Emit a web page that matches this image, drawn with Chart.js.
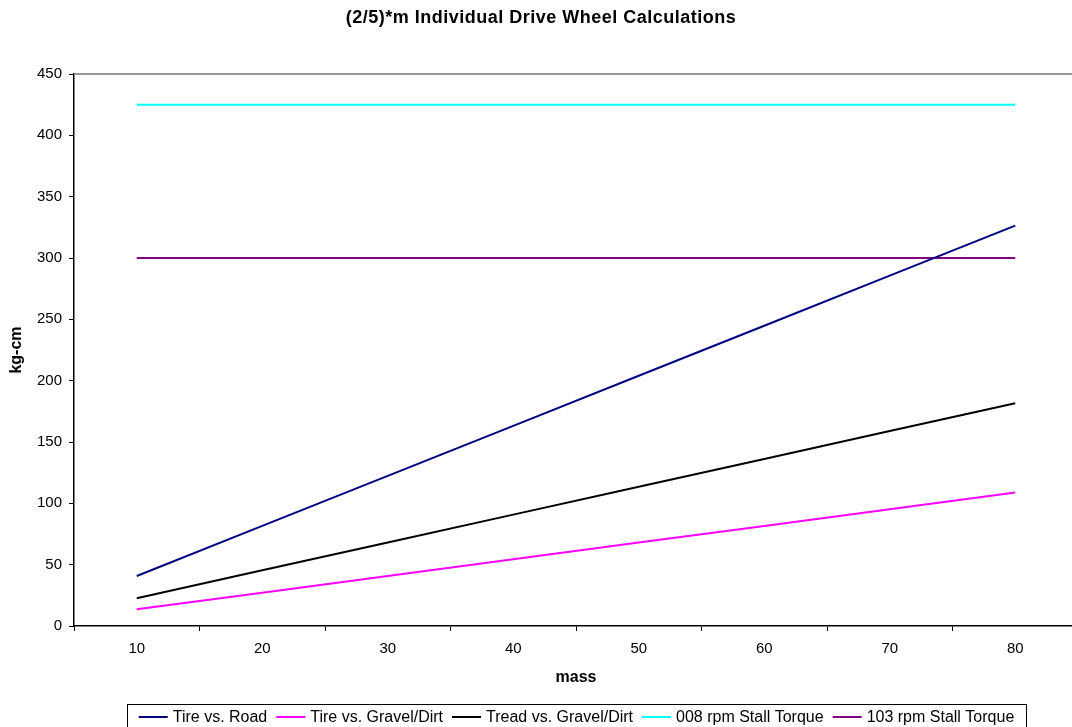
<!DOCTYPE html>
<html lang="en">
<head>
    <meta charset="UTF-8">
    <title>(2/5)*m Individual Drive Wheel Calculations</title>
    <script src="https://cdn.jsdelivr.net/npm/chart.js"></script>
    <style>
        html, body {
            margin: 0;
            padding: 0;
            background: #fff;
            overflow: hidden;
        }
        .chart-container {
            width: 1086px;
            height: 727px;
        }
    </style>
</head>
<body>
    <div class="chart-container">
        <canvas id="wheelChart" width="1086" height="727"></canvas>
    </div>
    <script>
        const FONT = "'Liberation Sans', Arial, sans-serif";

        const chartTitle = '(2/5)*m Individual Drive Wheel Calculations';
        const massLabels = ['10', '20', '30', '40', '50', '60', '70', '80'];
        const tireRoad = [40.8, 81.6, 122.4, 163.2, 204, 244.8, 285.6, 326.4];
        const tireGravel = [13.6, 27.2, 40.8, 54.4, 68, 81.6, 95.2, 108.8];
        const treadGravel = [22.7, 45.4, 68.1, 90.8, 113.5, 136.2, 158.9, 181.6];
        const stall008 = [425, 425, 425, 425, 425, 425, 425, 425];
        const stall103 = [300, 300, 300, 300, 300, 300, 300, 300];

        function series(label, data, color) {
            return {
                label: label,
                data: data,
                borderColor: color,
                backgroundColor: color,
                borderWidth: 2,
                pointRadius: 0,
                tension: 0,
                fill: false
            };
        }

        // title, gray frame line on top and boxed legend, Excel style
        const decorations = {
            id: 'decorations',
            afterDraw(chart) {
                const ctx = chart.ctx;
                const area = chart.chartArea;
                ctx.save();

                ctx.strokeStyle = '#999';
                ctx.lineWidth = 2;
                ctx.beginPath();
                ctx.moveTo(area.left, area.top);
                ctx.lineTo(area.right, area.top);
                ctx.stroke();

                ctx.fillStyle = '#000';
                ctx.font = 'bold 18px ' + FONT;
                ctx.letterSpacing = '0.5px';
                ctx.textAlign = 'center';
                ctx.textBaseline = 'middle';
                ctx.fillText(chartTitle, 541, 18);
                ctx.letterSpacing = '0px';

                // legend, centred under the plot
                const boxLeft = 127, boxRight = 1026, boxTop = 704, midY = 717;
                ctx.lineWidth = 1;
                ctx.strokeStyle = '#000';
                ctx.strokeRect(boxLeft + 0.5, boxTop + 0.5, boxRight - boxLeft, 30);

                ctx.font = '16px ' + FONT;
                ctx.textAlign = 'left';
                const sample = 29, gap = 5, space = 9;
                const items = chart.data.datasets;
                let total = 0;
                items.forEach((ds, i) => {
                    total += sample + gap + ctx.measureText(ds.label).width;
                    if (i < items.length - 1) total += space;
                });
                let x = (boxLeft + boxRight) / 2 - total / 2;
                items.forEach(ds => {
                    ctx.strokeStyle = ds.borderColor;
                    ctx.lineWidth = 2;
                    ctx.beginPath();
                    ctx.moveTo(x, midY);
                    ctx.lineTo(x + sample, midY);
                    ctx.stroke();
                    x += sample + gap;
                    ctx.fillStyle = '#000';
                    ctx.fillText(ds.label, x, midY + 1);
                    x += ctx.measureText(ds.label).width + space;
                });

                ctx.restore();
            }
        };

        const ctx = document.getElementById('wheelChart').getContext('2d');
        new Chart(ctx, {
            type: 'line',
            data: {
                labels: massLabels,
                datasets: [
                    series('Tire vs. Road', tireRoad, '#000080'),
                    series('Tire vs. Gravel/Dirt', tireGravel, '#ff00ff'),
                    series('Tread vs. Gravel/Dirt', treadGravel, '#000000'),
                    series('008 rpm Stall Torque', stall008, '#00ffff'),
                    series('103 rpm Stall Torque', stall103, '#800080')
                ]
            },
            options: {
                responsive: false,
                animation: false,
                layout: {
                    padding: { top: 74, right: 8, bottom: 0, left: 0 }
                },
                plugins: {
                    legend: { display: false },
                    title: { display: false },
                    tooltip: { enabled: false }
                },
                scales: {
                    x: {
                        offset: true,
                        afterFit(scale) { scale.height = 101; },
                        grid: {
                            offset: true,
                            drawOnChartArea: false,
                            drawTicks: true,
                            tickLength: 5,
                            color: '#000'
                        },
                        border: { color: '#000', width: 1.5 },
                        ticks: {
                            color: '#000',
                            padding: 9,
                            maxRotation: 0,
                            font: { family: FONT, size: 15 }
                        },
                        title: {
                            display: true,
                            text: 'mass',
                            color: '#000',
                            padding: { top: 0, bottom: 40 },
                            font: { family: FONT, size: 16, weight: 'bold' }
                        }
                    },
                    y: {
                        min: 0,
                        max: 450,
                        afterFit(scale) { scale.width = 74; },
                        grid: {
                            drawOnChartArea: false,
                            drawTicks: true,
                            tickLength: 5,
                            color: '#000'
                        },
                        border: { color: '#000', width: 1.5 },
                        ticks: {
                            stepSize: 50,
                            color: '#000',
                            padding: 7,
                            font: { family: FONT, size: 15 }
                        },
                        title: {
                            display: true,
                            text: 'kg-cm',
                            color: '#000',
                            padding: { top: 7, bottom: 0 },
                            font: { family: FONT, size: 16, weight: 'bold' }
                        }
                    }
                }
            },
            plugins: [decorations]
        });
    </script>
</body>
</html>
